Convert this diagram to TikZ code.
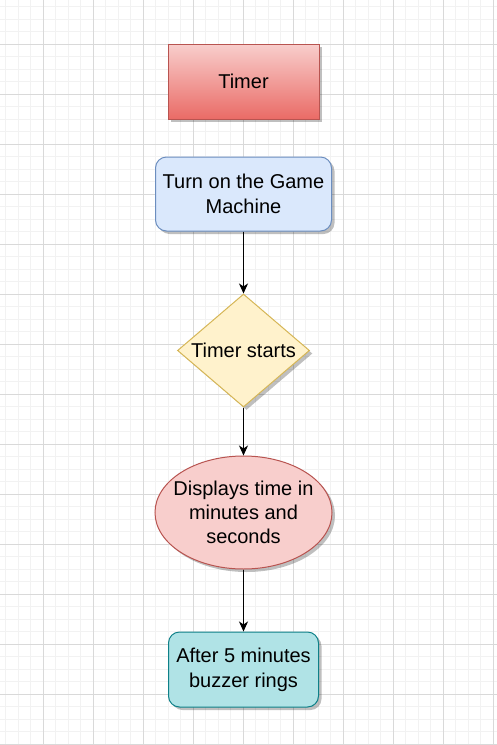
\documentclass[tikz,border=0pt]{standalone}
\usepackage{fontspec}
\setmainfont{Liberation Sans}
\usetikzlibrary{shapes.geometric,arrows.meta,shadows}
\definecolor{gridminor}{HTML}{F2F2F2}
\definecolor{gridmajor}{HTML}{D9D9D9}
\definecolor{redtop}{HTML}{F8CECC}
\definecolor{redbot}{HTML}{EA6B66}
\definecolor{redline}{HTML}{B85450}
\definecolor{bluefill}{HTML}{DAE8FC}
\definecolor{blueline}{HTML}{6C8EBF}
\definecolor{yelfill}{HTML}{FFF2CC}
\definecolor{yelline}{HTML}{D6B656}
\definecolor{pinkfill}{HTML}{F8CECC}
\definecolor{tealfill}{HTML}{B0E3E6}
\definecolor{tealline}{HTML}{0E8088}
\tikzset{
  shdw/.style={drop shadow={shadow xshift=3pt,shadow yshift=-3pt,fill=black,opacity=0.25}},
  basebox/.style={shdw,line width=1pt,inner sep=0pt,align=center,text=black,
    font=\fontsize{20}{25}\selectfont},
  titlebox/.style={basebox,rectangle,draw=redline,top color=redtop,bottom color=redbot,
    minimum width=151pt,minimum height=75pt},
  startbox/.style={basebox,rectangle,rounded corners=11pt,draw=blueline,fill=bluefill,
    minimum width=176pt,minimum height=74pt},
  decbox/.style={basebox,diamond,draw=yelline,fill=yelfill,
    minimum width=132pt,minimum height=113pt},
  ellbox/.style={basebox,ellipse,draw=redline,fill=pinkfill,
    minimum width=177pt,minimum height=113pt},
  endbox/.style={basebox,rectangle,rounded corners=11pt,draw=tealline,fill=tealfill,
    minimum width=150pt,minimum height=75pt},
  conn/.style={line width=1pt,draw=black,-{Stealth[length=10pt,width=9pt,inset=3pt]}},
  inlabel/.style={align=center,text=black,font=\fontsize{20}{24}\selectfont,inner sep=0pt}
}
\begin{document}
\begin{tikzpicture}[x=1pt,y=-1pt]
\useasboundingbox (0,0) rectangle (497,745);
\fill[white] (0,0) rectangle (497,745);
% grid
\foreach \k in {0,...,39} {
  \draw[gridminor,line width=1pt] ({5.8+12.5*\k},0) -- ({5.8+12.5*\k},745);
}
\foreach \k in {0,...,59} {
  \draw[gridminor,line width=1pt] (0,{6.8+12.5*\k}) -- (497,{6.8+12.5*\k});
}
\foreach \k in {0,...,9} {
  \draw[gridmajor,line width=1pt] ({43.3+50*\k},0) -- ({43.3+50*\k},745);
}
\foreach \k in {0,...,14} {
  \draw[gridmajor,line width=1pt] (0,{44.3+50*\k}) -- (497,{44.3+50*\k});
}
% nodes
\node[titlebox] (timer) at (243.5,81.5) {Timer};
\node[startbox] (start) at (243.5,194) {Turn on the Game\\Machine};
\node[decbox,label={[inlabel]center:Timer starts}] (dec) at (243.5,350.5) {};
\node[ellbox,label={[inlabel]center:Displays time in\\minutes and\\seconds}] (disp) at (243.5,512.5) {};
\node[endbox] (buzz) at (243.5,669.5) {After 5 minutes\\buzzer rings};
% connectors
\draw[conn] (start.south) -- (dec.north);
\draw[conn] (dec.south) -- (disp.north);
\draw[conn] (disp.south) -- (buzz.north);
\end{tikzpicture}
\end{document}
